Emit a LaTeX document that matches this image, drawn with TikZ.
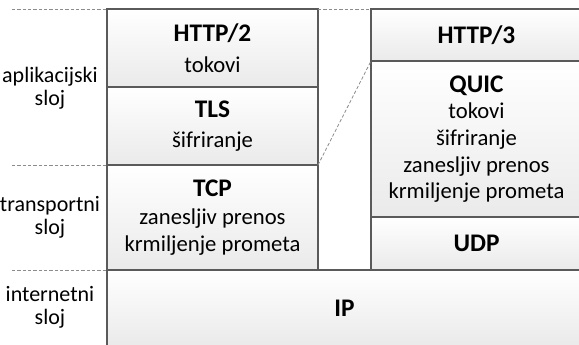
\documentclass[tikz,border=0pt]{standalone}
\usepackage{fontspec}
\setmainfont{Carlito}
\usepackage{tikz}
\usetikzlibrary{positioning}
\definecolor{rob}{HTML}{5A5A5A}
\definecolor{senca}{HTML}{EAEAEA}
\definecolor{crta}{HTML}{8C8C8C}
\newcommand{\slojpisava}{\fontsize{17}{20}\selectfont}
\newcommand{\naslov}[1]{{\fontsize{19}{20}\selectfont\bfseries #1}}

\begin{document}
\begin{tikzpicture}[
	x=0.75pt, y=-0.75pt,
	every node/.style={font=\slojpisava},
	plast/.style = {draw=rob, line width=0.8pt, top color=white, bottom color=senca,
	  inner sep=0pt, outer sep=0pt, align=center, minimum width=158.25pt},
	meja/.style = {draw=crta, line width=0.6pt, dash pattern=on 2.5pt off 1.5pt},
	oznaka/.style = {align=center, font=\fontsize{16.5}{17.5}\selectfont}
  ]
	\useasboundingbox (0,0) rectangle (579,345);
	\clip (0,0) rectangle (579,345);

	% levi sklad
	\node[plast, anchor=north west, minimum height=58.5pt] (http2) at (107,9) {\naslov{HTTP/2}\\[3pt]tokovi};
	\node[plast, minimum height=58.5pt, below=0pt of http2] (tls) {\naslov{TLS}\\[3pt]šifriranje};
	\node[plast, minimum height=78.75pt, below=0pt of tls] (tcp) {\naslov{TCP}\\[1pt]zanesljiv prenos\\krmiljenje prometa};

	% desni sklad
	\node[plast, anchor=north west, minimum height=39pt] (http3) at (371,9) {\naslov{HTTP/3}};
	\node[plast, minimum height=117pt, below=0pt of http3] (quic) {\naslov{QUIC}\\tokovi\\šifriranje\\zanesljiv prenos\\krmiljenje prometa};
	\node[plast, minimum height=39.75pt, below=0pt of quic] (udp) {\naslov{UDP}};

	\node[plast, anchor=north west, minimum width=356.25pt, minimum height=57pt] (ip) at (107,270) {\naslov{IP}};

	% meje slojev
	\coordinate (m1) at (12,9);
	\coordinate (m2) at (12,165);
	\coordinate (m3) at (12,270);
	\draw[meja] (m1) -- (http2.north west);
	\draw[meja] (m2) -- (tls.south west);
	\draw[meja] (m3) -- (ip.north west);
	\draw[meja] (http2.north east) -- (http3.north west);
	\draw[meja] (tls.south east) -- (quic.north west);

	\node[oznaka] (apl) at (50,88) {aplikacijski\\sloj};
	\node[oznaka] (tra) at (50,217) {transportni\\sloj};
	\node[oznaka] (int) at (50,307) {internetni\\sloj};

\end{tikzpicture}
\end{document}
